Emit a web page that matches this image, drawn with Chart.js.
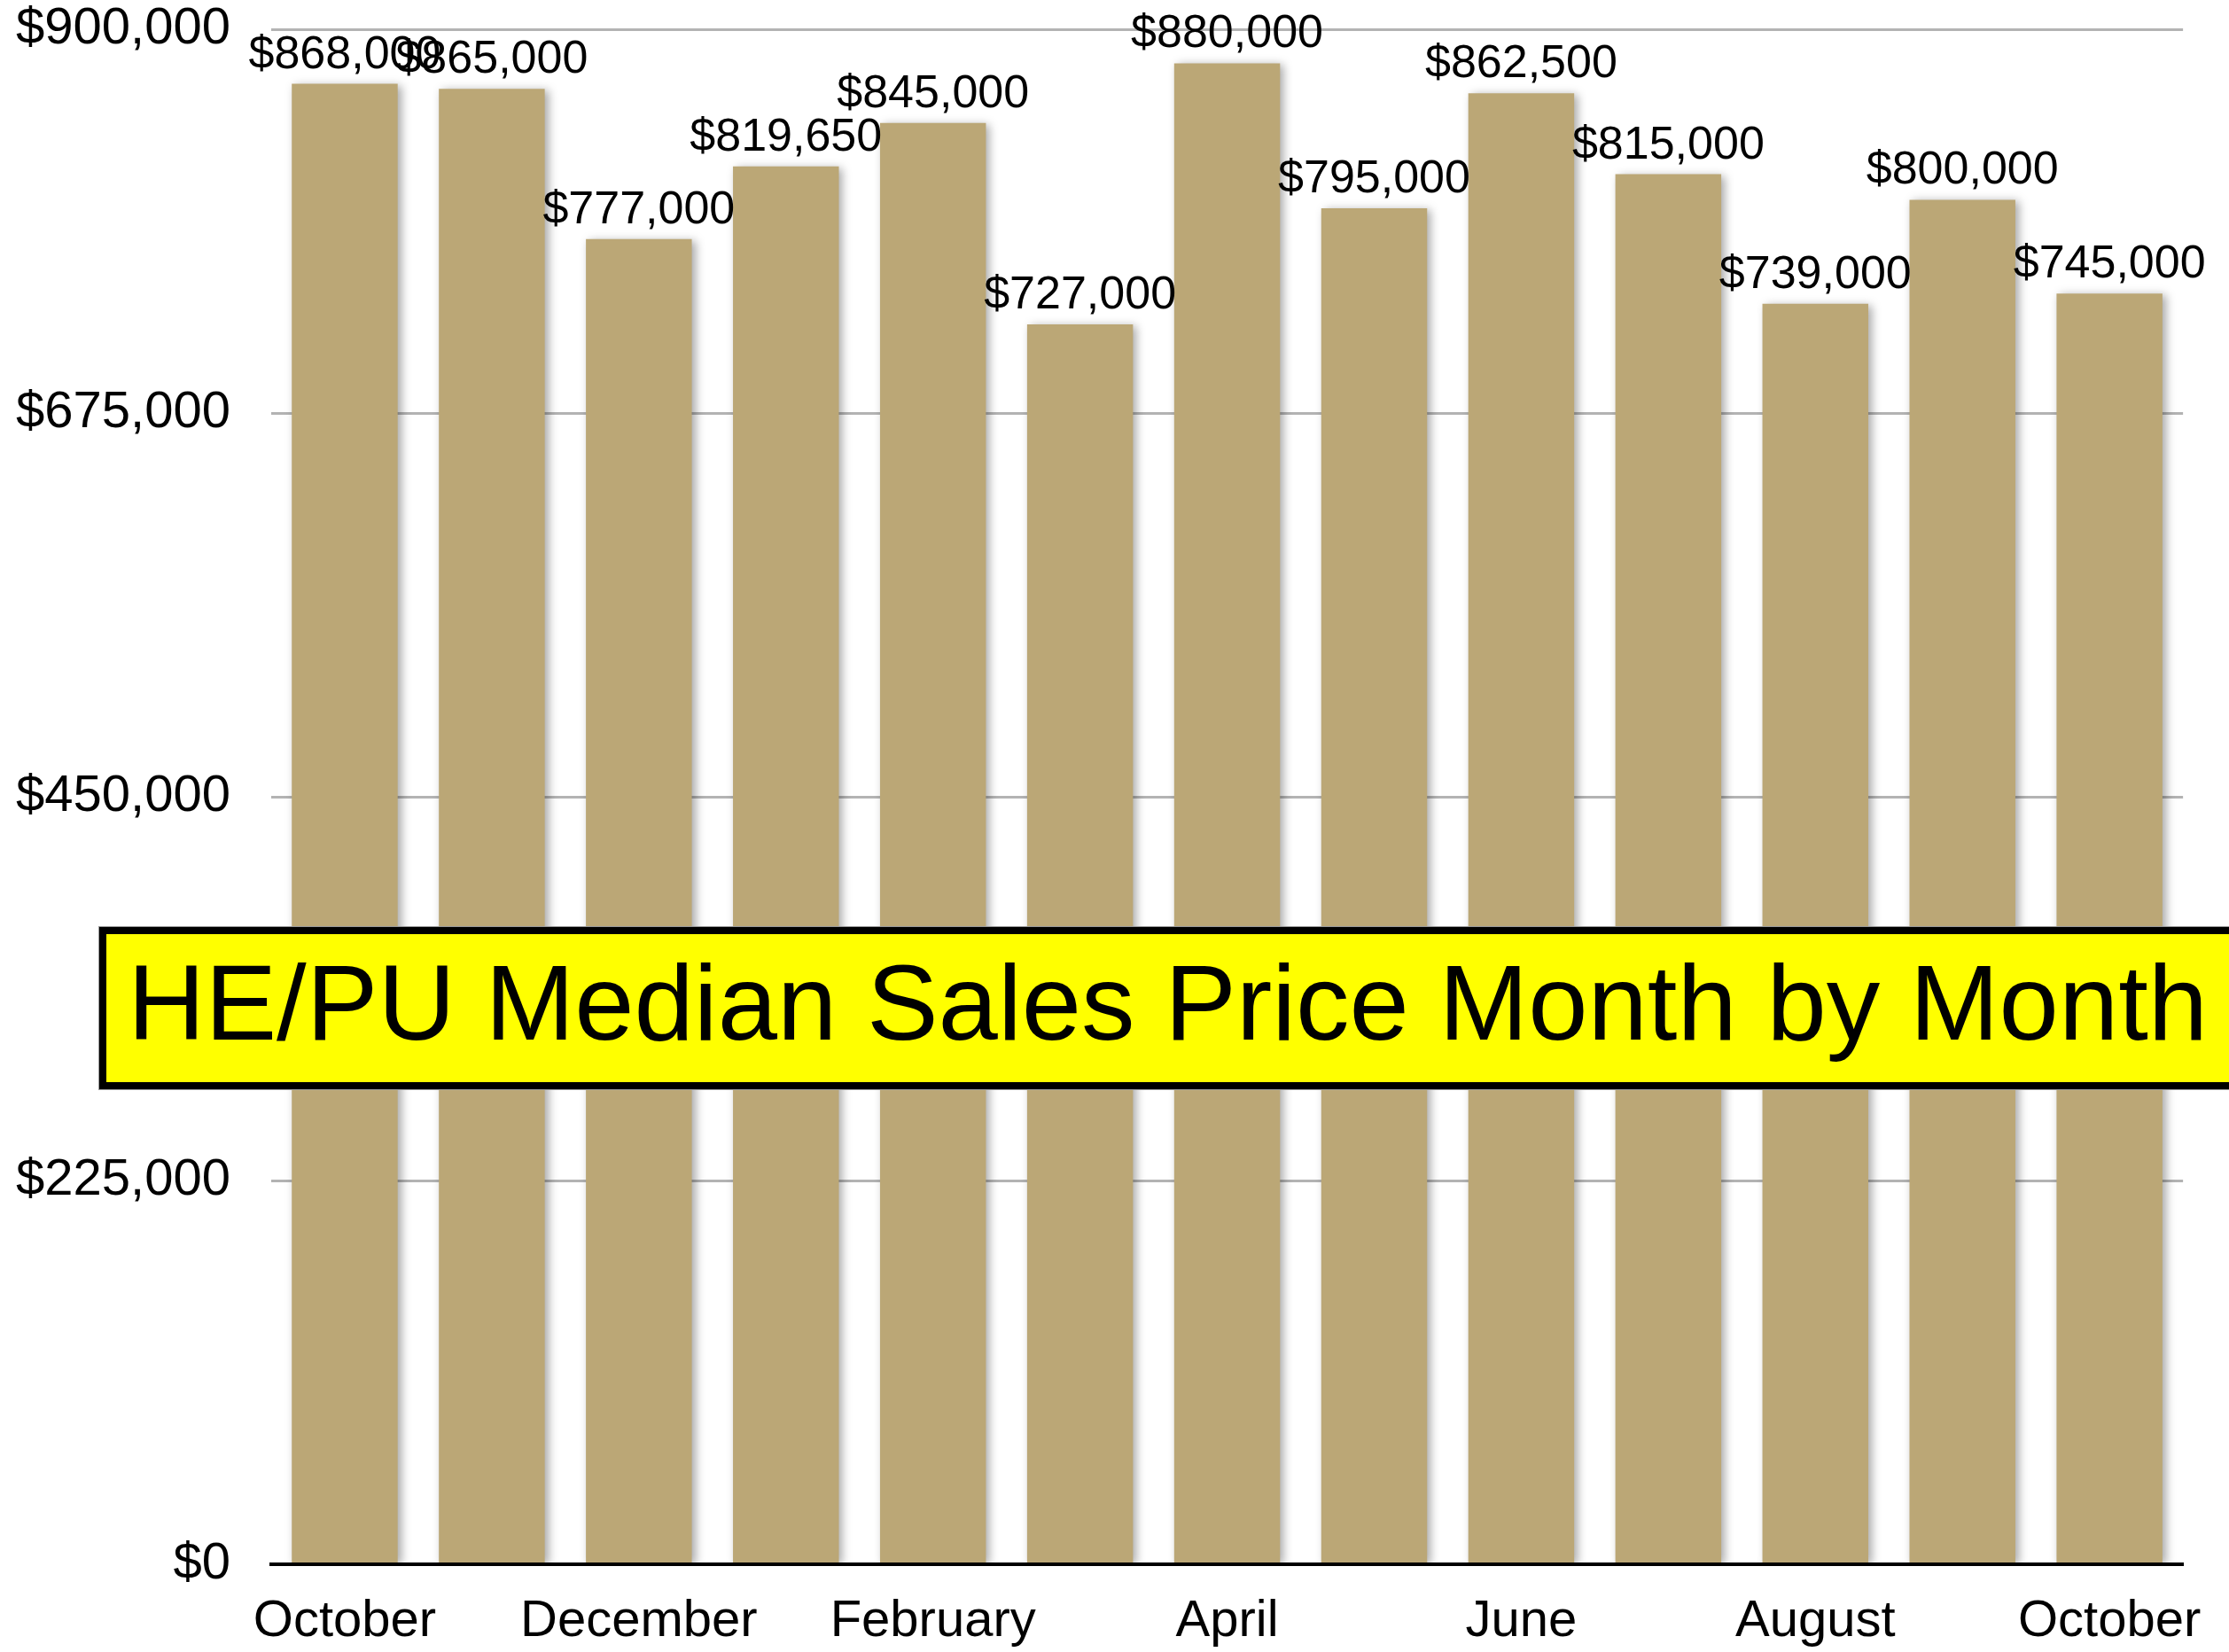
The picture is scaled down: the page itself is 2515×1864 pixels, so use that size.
<!DOCTYPE html>
<html>
<head>
<meta charset="utf-8">
<title>HE/PU Median Sales Price Month by Month</title>
<script src="https://cdn.jsdelivr.net/npm/chart.js@4/dist/chart.umd.min.js"></script>
<style>
  html, body { margin: 0; padding: 0; background: #ffffff; }
  #wrap { width: 2515px; height: 1864px; }
</style>
</head>
<body>
<div id="wrap"><canvas id="chart1" width="2515" height="1864"></canvas></div>
<script>
// data
const months = ['October', 'November', 'December', 'January', 'February', 'March', 'April',
    'May', 'June', 'July', 'August', 'September', 'October'];
const medianPrice = [868000, 865000, 777000, 819650, 845000, 727000, 880000,
    795000, 862500, 815000, 739000, 800000, 745000];
const yTicks = [0, 225000, 450000, 675000, 900000];
const titleText = 'HE/PU Median Sales Price Month by Month';

const FONT = '"Liberation Sans", Arial, Helvetica, sans-serif';

function money(v) {
    return '$' + v.toLocaleString('en-US');
}

// soft shadow behind the bars
const barShadow = {
    id: 'barShadow',
    beforeDatasetsDraw(chart) {
        const ctx = chart.ctx;
        ctx.save();
        ctx.shadowColor = 'rgba(0,0,0,0.35)';
        ctx.shadowBlur = 10;
        ctx.shadowOffsetX = 4;
        ctx.shadowOffsetY = 2;
    },
    afterDatasetsDraw(chart) {
        chart.ctx.restore();
    }
};

// value labels above each bar
const valueLabels = {
    id: 'valueLabels',
    afterDatasetsDraw(chart) {
        const ctx = chart.ctx;
        const meta = chart.getDatasetMeta(0);
        ctx.save();
        ctx.font = '52px ' + FONT;
        ctx.fillStyle = '#000';
        ctx.textAlign = 'center';
        ctx.textBaseline = 'alphabetic';
        meta.data.forEach(function (bar, i) {
            ctx.fillText(money(medianPrice[i]), bar.x, bar.y - 18);
        });
        ctx.restore();
    }
};

// yellow title banner laid over the bars
const titleBanner = {
    id: 'titleBanner',
    afterDraw(chart) {
        const ctx = chart.ctx;
        ctx.save();
        ctx.fillStyle = '#9a9a9a';
        ctx.fillRect(111, 1045, 2420, 185);
        ctx.fillStyle = '#000';
        ctx.fillRect(112, 1046, 2420, 183);
        ctx.fillStyle = '#ffff00';
        ctx.fillRect(120, 1054, 2420, 167);
        ctx.fillStyle = '#000';
        ctx.font = '121px ' + FONT;
        ctx.textAlign = 'left';
        ctx.textBaseline = 'alphabetic';
        ctx.fillText(titleText, 144, 1173);
        ctx.restore();
    }
};

document.addEventListener('DOMContentLoaded', function () {
    const ctx1 = document.getElementById('chart1').getContext('2d');

    new Chart(ctx1, {
        type: 'bar',
        data: {
            labels: months,
            datasets: [{
                label: 'Median sales price',
                data: medianPrice,
                backgroundColor: '#bba776',
                borderWidth: 0,
                categoryPercentage: 1.0,
                barPercentage: 0.72
            }]
        },
        options: {
            responsive: false,
            animation: false,
            devicePixelRatio: 1,
            layout: { padding: { top: 33, right: 44, left: 0, bottom: 0 } },
            plugins: {
                legend: { display: false },
                tooltip: { enabled: false },
                title: { display: false }
            },
            scales: {
                x: {
                    grid: { display: false, drawTicks: false },
                    border: { display: true, color: '#000', width: 4 },
                    ticks: {
                        autoSkip: false,
                        maxRotation: 0,
                        color: '#000',
                        padding: 30,
                        font: { family: FONT, size: 58 },
                        callback: function (value, index) {
                            return index % 2 === 0 ? months[index] : '';
                        }
                    },
                    afterFit: function (scale) { scale.height = 99; }
                },
                y: {
                    min: 0,
                    max: 900000,
                    grid: {
                        drawTicks: false,
                        color: function (c) { return c.tick && c.tick.value === 0 ? '#000' : '#b3b3b3'; },
                        lineWidth: function (c) { return c.tick && c.tick.value === 0 ? 4 : 3; }
                    },
                    border: { display: false },
                    afterBuildTicks: function (scale) {
                        scale.ticks = yTicks.map(function (v) { return { value: v }; });
                    },
                    ticks: {
                        color: '#000',
                        padding: 46,
                        font: { family: FONT, size: 58 },
                        callback: function (value) { return money(value); }
                    },
                    afterFit: function (scale) {
                        scale.width = 306;
                        scale.paddingTop = 0;
                        scale.paddingBottom = 0;
                    }
                }
            }
        },
        plugins: [barShadow, valueLabels, titleBanner]
    });
});
</script>
</body>
</html>
